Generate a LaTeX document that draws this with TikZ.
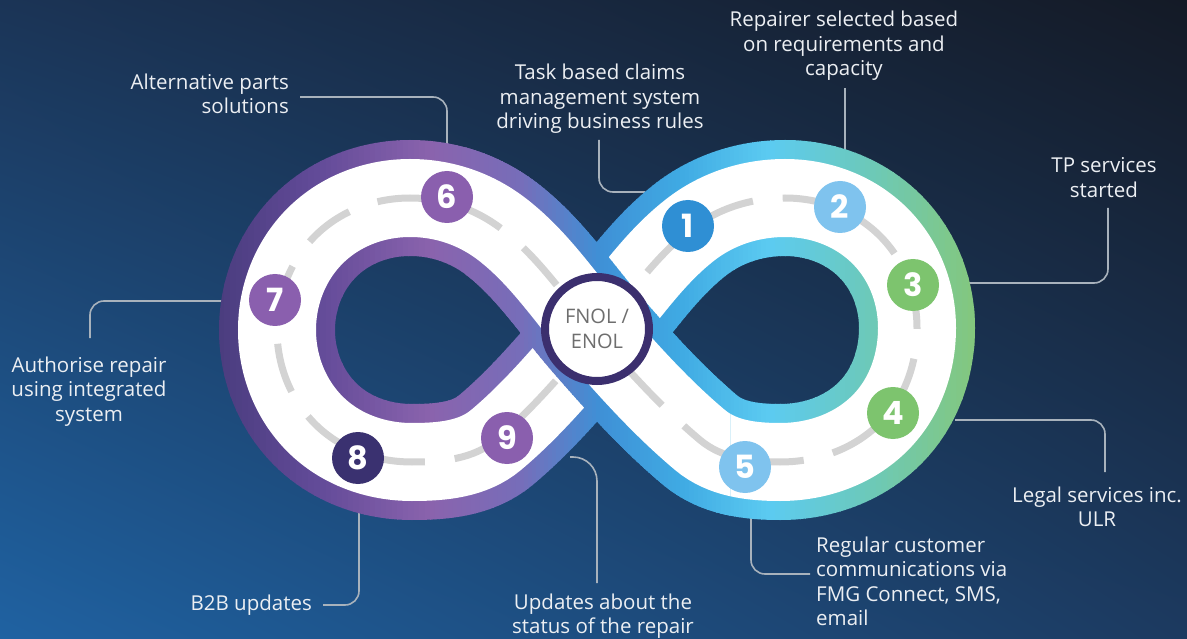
\documentclass[tikz,border=0pt]{standalone}
\usepackage{fontspec}
\setmainfont{Open Sans}
\newfontfamily\numfont{Poppins}
\usetikzlibrary{calc,shadings}

% background corners
\definecolor{bgUL}{HTML}{1B3456}
\definecolor{bgUR}{HTML}{141A26}
\definecolor{bgLL}{HTML}{1F62A2}
\definecolor{bgLR}{HTML}{1C3A60}
% band gradient stops (left to right)
\definecolor{g0}{HTML}{463A7A}
\definecolor{g1}{HTML}{634B99}
\definecolor{g2}{HTML}{8A63AD}
\definecolor{g3}{HTML}{776DB9}
\definecolor{g4}{HTML}{3F90D6}
\definecolor{g5}{HTML}{3FAAE3}
\definecolor{g6}{HTML}{5CCBF1}
\definecolor{g7}{HTML}{6CC9B9}
\definecolor{g8}{HTML}{86C777}
% other colours
\definecolor{dashc}{HTML}{D3D3D3}
\definecolor{linec}{HTML}{A8B2BC}
\definecolor{txtc}{HTML}{ECEFF3}
\definecolor{ringc}{HTML}{3B2F6E}
\definecolor{fnolc}{HTML}{6E6E6E}
\definecolor{nBlue}{HTML}{2F8FD4}
\definecolor{nSky}{HTML}{7FC3EE}
\definecolor{nGreen}{HTML}{7DC46E}
\definecolor{nPurple}{HTML}{8A5FAE}
\definecolor{nNavy}{HTML}{3A3170}

% one curved piece of the ribbon: from #1 leaving at angle #2
% to #3 arriving at angle #4, handle length #5
\newcommand\sg[5]{.. controls ($(#1)+(#2:#5)$) and ($(#3)+(#4+180:#5)$) .. (#3)}

% centre line of the figure-eight ribbon
\def\bandpath{(C)
  \sg{C}{-49}{P1}{-38}{47.6}
  \sg{P1}{-38}{RT}{0}{34.5}
  \sg{RT}{0}{RUR}{45}{35.4}
  \sg{RUR}{45}{RR}{90}{34.4}
  \sg{RR}{90}{RLR}{135}{35.3}
  \sg{RLR}{135}{RB}{180}{37.2}
  \sg{RB}{180}{P5}{-140}{28.7}
  \sg{P5}{-140}{C}{-131}{49.4}
  \sg{C}{-131}{P6}{-142}{47.6}
  \sg{P6}{-142}{LT}{180}{34}
  \sg{LT}{180}{LUL}{135}{35.4}
  \sg{LUL}{135}{LL}{90}{35}
  \sg{LL}{90}{LLL}{45}{35}
  \sg{LLL}{45}{LB}{0}{36}
  \sg{LB}{0}{P9}{-40}{30}
  \sg{P9}{-40}{C}{-49}{49}}
% the strand that passes over the crossing
\def\overpath{(RB)
  \sg{RB}{180}{P5}{-140}{28.7}
  \sg{P5}{-140}{C}{-131}{49.4}
  \sg{C}{-131}{P6}{-142}{47.6}
  \sg{P6}{-142}{LT}{180}{34}}

% stroke a path with a left-to-right colour gradient, strip by strip
\newcommand\bandstrips[1]{%
  \foreach \xa/\xb/\ca/\cb in {200/320/g0/g1, 320/430/g1/g2, 430/520/g2/g3, 520/600/g3/g4, 600/680/g4/g5, 680/770/g5/g6, 770/870/g6/g7, 870/985/g7/g8}{%
    \foreach \i in {1,...,20}{%
      \pgfmathsetmacro\xl{\xa+(\i-1)*(\xb-\xa)/20}%
      \pgfmathsetmacro\xr{\xl+(\xb-\xa)/20+0.8}%
      \pgfmathsetmacro\pc{100*(\i-0.5)/20}%
      \begin{scope}
        \clip (\xl,-10) rectangle (\xr,650);
        \draw[line width=116pt, color=\cb!\pc!\ca] #1;
      \end{scope}
    }%
  }%
}

\begin{document}
\begin{tikzpicture}[x=1pt, y=-1pt,
  callout/.style={draw=linec, line width=1.6pt, rounded corners=14pt},
  lbl/.style={text=txtc, inner sep=0pt, font=\fontsize{20.5}{24.5}\selectfont},
  num/.style={circle, minimum size=52pt, inner sep=0pt, text=white,
    font=\numfont\bfseries\fontsize{32}{32}\selectfont}]
\useasboundingbox (0,0) rectangle (1187,639);
\shade[upper left=bgUL, upper right=bgUR, lower left=bgLL, lower right=bgLR]
  (0,0) rectangle (1187,639);

% key points of the ribbon's centre line
\coordinate (C)   at (596.5,334);
\coordinate (P1)  at (690,230);
\coordinate (RT)  at (785,198);
\coordinate (RUR) at (880,236);
\coordinate (RR)  at (917,328);
\coordinate (RLR) at (880,423);
\coordinate (RB)  at (780,462);
\coordinate (P5)  at (700,440);
\coordinate (P6)  at (503,230);
\coordinate (LT)  at (410,198);
\coordinate (LUL) at (315,236);
\coordinate (LL)  at (277,330);
\coordinate (LLL) at (315,424);
\coordinate (LB)  at (412,462);
\coordinate (P9)  at (496,440);

% labels (anchored at the baseline of their last line)
\node[lbl, align=right, anchor=base east] (tAlt) at (289,114) {Alternative parts\\solutions};
\node[lbl, align=center, anchor=base] (tTask) at (600,129) {Task based claims\\management system\\driving business rules};
\node[lbl, align=center, anchor=base] (tRep) at (844,76) {Repairer selected based\\on requirements and\\capacity};
\node[lbl, align=center, anchor=base] (tTP) at (1104,197.5) {TP services\\started};
\node[lbl, align=center, anchor=base] (tLeg) at (1097,526.5) {Legal services inc.\\ULR};
\node[lbl, align=left, anchor=base west] (tReg) at (816,625.5) {Regular customer\\communications via\\FMG Connect, SMS,\\email};
\node[lbl, align=center, anchor=base] (tUpd) at (603,633.5) {Updates about the\\status of the repair};
\node[lbl, align=right, anchor=base east] (tB2B) at (312,610) {B2B updates};
\node[lbl, align=center, anchor=base] (tAuth) at (89,421) {Authorise repair\\using integrated\\system};

% callout end points
\coordinate (c1s) at (300,97);   \coordinate (c1e) at (447,146);
\coordinate (c2s) at (599,140);  \coordinate (c2e) at (645,192);
\coordinate (c3s) at (845,88);   \coordinate (c3e) at (845,150);
\coordinate (c4s) at (1108,208); \coordinate (c4e) at (968,283);
\coordinate (c5s) at (955,420);  \coordinate (c5e) at (1105,472);
\coordinate (c6s) at (751,515);  \coordinate (c6e) at (810,574);
\coordinate (c7s) at (570,457);  \coordinate (c7e) at (597,583);
\coordinate (c8s) at (323,605);  \coordinate (c8e) at (359,512);
\coordinate (c9s) at (90,338);   \coordinate (c9e) at (222,301);

\draw[callout] (c1s) -| (c1e);
\draw[callout] (c2s) |- (c2e);
\draw[callout] (c3s) -- (c3e);
\draw[callout] (c4s) |- (c4e);
\draw[callout] (c5s) -| (c5e);
\draw[callout] (c6s) |- (c6e);
\draw[callout, rounded corners=24pt] (c7s) -| (c7e);
\draw[callout] (c8s) -| (c8e);
\draw[callout] (c9s) |- (c9e);

% ribbon
\bandstrips{\bandpath}
\draw[white, line width=78pt] \bandpath;
\begin{scope}
  \clip (465,-10) rectangle (730,650);
  \bandstrips{\overpath}
  \draw[white, line width=78pt] \overpath;
\end{scope}
\draw[dashc, line width=7pt, dash pattern=on 50pt off 30pt] \bandpath;

% centre badge
\node[circle, fill=white, draw=ringc, line width=8pt, minimum size=104pt, inner sep=0pt,
  align=center, text=fnolc, font=\fontsize{20}{25}\selectfont] (fnol) at (597,329) {FNOL /\\ENOL};

% step numbers
\node[num, fill=nBlue]   (n1) at (688,226) {1};
\node[num, fill=nSky]    (n2) at (840,207) {2};
\node[num, fill=nGreen]  (n3) at (913,285) {3};
\node[num, fill=nGreen]  (n4) at (893,413) {4};
\node[num, fill=nSky]    (n5) at (745,467) {5};
\node[num, fill=nPurple] (n6) at (447,197) {6};
\node[num, fill=nPurple] (n7) at (275,300) {7};
\node[num, fill=nNavy]   (n8) at (358,458) {8};
\node[num, fill=nPurple] (n9) at (507,438) {9};
\end{tikzpicture}
\end{document}
